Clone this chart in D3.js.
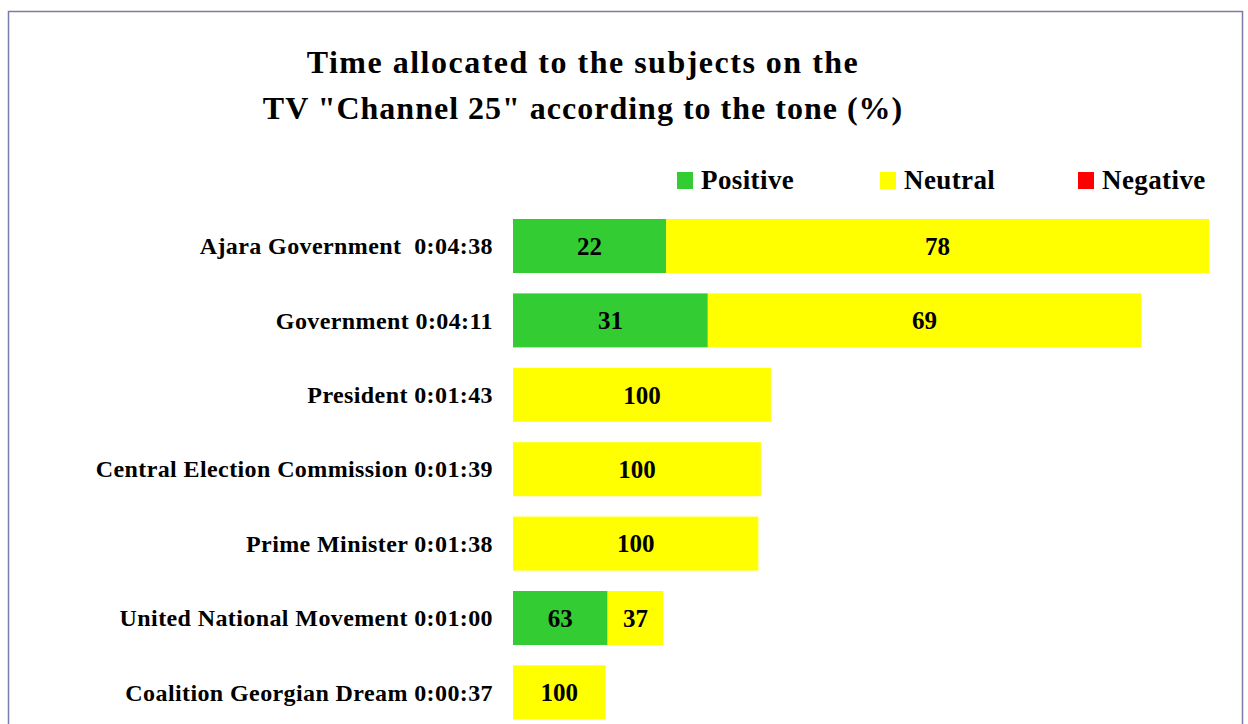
<!DOCTYPE html>
<html>
<head>
<meta charset="utf-8">
<script src="https://cdn.jsdelivr.net/npm/d3@7/dist/d3.min.js"></script>
<style>
  body { margin: 0; background: #fff; }
  svg text { font-family: "Liberation Serif", "DejaVu Serif", serif; font-weight: bold; fill: #000; }
</style>
</head>
<body>
<script>
'use strict';

// subjects and their total airtime
const subjects = [
  "Ajara Government  0:04:38",
  "Government 0:04:11",
  "President 0:01:43",
  "Central Election Commission 0:01:39",
  "Prime Minister 0:01:38",
  "United National Movement 0:01:00",
  "Coalition Georgian Dream 0:00:37"
];
const seconds = [278, 251, 103, 99, 98, 60, 37];

// tone shares (%)
const positive = [22, 31, 0, 0, 0, 63, 0];
const neutral = [78, 69, 100, 100, 100, 37, 100];
const negative = [0, 0, 0, 0, 0, 0, 0];

const tones = ["Positive", "Neutral", "Negative"];
const toneColors = ["#33cc33", "#ffff00", "#ff0000"];

const W = 1248, H = 724;

const svg = d3.select('body')
  .append('svg')
  .attr('width', W)
  .attr('height', H);

// frame round the chart
svg.append('rect')
  .attr('x', 8.5)
  .attr('y', 11.5)
  .attr('width', 1234)
  .attr('height', 800)
  .attr('fill', 'none')
  .attr('stroke', '#7b7ba9')
  .attr('stroke-width', 1.5);

// title
const title = svg.append('text')
  .attr('text-anchor', 'middle')
  .style('font-size', '32px');
title.append('tspan').attr('x', 583).attr('y', 73)
  .style('letter-spacing', '1.5px')
  .text('Time allocated to the subjects on the');
title.append('tspan').attr('x', 583).attr('y', 119)
  .style('letter-spacing', '1px')
  .text('TV "Channel 25" according to the tone (%)');

// scales
const x = d3.scaleLinear()
  .domain([0, d3.max(seconds)])
  .range([513, 1209]);

const y = d3.scaleBand()
  .domain(subjects)
  .range([219, 719.4])
  .paddingInner(0.274)
  .paddingOuter(0);

// build stacked rows: each segment width = share * total seconds
const rows = subjects.map((s, i) => ({
  subject: s,
  total: seconds[i],
  values: [positive[i], neutral[i], negative[i]]
}));

const segs = [];
rows.forEach((r) => {
  let acc = 0;
  r.values.forEach((v, k) => {
    const start = acc;
    acc += v;
    if (v > 0) {
      segs.push({ subject: r.subject, tone: k, value: v,
        x0: r.total * start / 100, x1: r.total * acc / 100 });
    }
  });
});

svg.selectAll('.seg')
  .data(segs)
  .enter()
  .append('rect')
  .attr('class', 'seg')
  .attr('x', (d) => x(d.x0))
  .attr('y', (d) => y(d.subject))
  .attr('width', (d) => x(d.x1) - x(d.x0))
  .attr('height', y.bandwidth())
  .attr('fill', (d) => toneColors[d.tone]);

svg.selectAll('.val')
  .data(segs)
  .enter()
  .append('text')
  .attr('class', 'val')
  .attr('x', (d) => (x(d.x0) + x(d.x1)) / 2)
  .attr('y', (d) => y(d.subject) + y.bandwidth() / 2)
  .attr('dy', '0.35em')
  .attr('text-anchor', 'middle')
  .style('font-size', '25px')
  .text((d) => d.value);

// category labels
const yAxis = d3.axisLeft(y).tickSize(0).tickPadding(20);
const gy = svg.append('g')
  .attr('transform', 'translate(513,0)')
  .call(yAxis);
gy.select('.domain').remove();
gy.selectAll('text')
  .attr('fill', '#000')
  .attr('dy', '0.34em')
  .style('font-size', '24px')
  .style('letter-spacing', '0.4px')
  .style('font-family', '"Liberation Serif", serif')
  .style('white-space', 'pre');

// legend
const legendX = [677, 880, 1078];
const lg = svg.selectAll('.lg')
  .data(tones)
  .enter()
  .append('g')
  .attr('class', 'lg')
  .attr('transform', (d, i) => 'translate(' + legendX[i] + ',172)');
lg.append('rect')
  .attr('width', 16)
  .attr('height', 17)
  .attr('fill', (d, i) => toneColors[i]);
lg.append('text')
  .attr('x', 24)
  .attr('y', 17)
  .style('font-size', '27px')
  .style('letter-spacing', '0.4px')
  .text((d) => d);
</script>
</body>
</html>
